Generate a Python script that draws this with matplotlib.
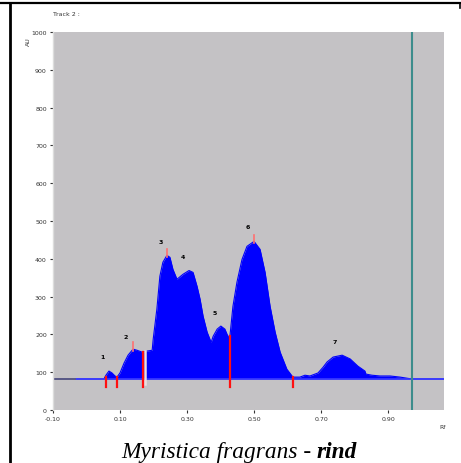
import matplotlib
matplotlib.use("Agg")
import matplotlib.pyplot as plt
from matplotlib.lines import Line2D
import numpy as np

# ---- data (Rf vs AU) ----
rf = [-0.100, -0.034, 0.040, 0.052, 0.058, 0.067, 0.076, 0.085, 0.091, 0.100,
      0.112, 0.124, 0.139, 0.151, 0.166, 0.169, 0.181, 0.196, 0.199, 0.210,
      0.219, 0.228, 0.240, 0.249, 0.258, 0.270, 0.288, 0.306, 0.318, 0.330,
      0.339, 0.348, 0.360, 0.372, 0.378, 0.390, 0.401, 0.413, 0.422, 0.428,
      0.437, 0.449, 0.464, 0.479, 0.500, 0.518, 0.533, 0.548, 0.563, 0.578,
      0.598, 0.616, 0.637, 0.652, 0.667, 0.691, 0.706, 0.718, 0.736, 0.763,
      0.787, 0.810, 0.831, 0.834, 0.852, 0.876, 0.906, 0.936, 0.957, 0.972,
      1.067]
au = [82, 82, 82, 82, 92, 103, 98, 90, 87, 98,
      124, 145, 161, 158, 153, 153, 156, 158, 187, 267,
      354, 391, 409, 404, 372, 346, 359, 369, 364, 327,
      293, 248, 206, 179, 195, 214, 222, 214, 195, 195,
      274, 338, 398, 433, 446, 425, 364, 274, 206, 153,
      108, 87, 87, 92, 90, 98, 113, 127, 140, 145,
      135, 116, 103, 95, 92, 90, 90, 87, 84, 82,
      82]
baseline_au = 82
front_rf = 0.972

peak_ids = ["1", "2", "3", "4", "5", "6", "7"]
peak_label_rf = [0.049, 0.118, 0.222, 0.288, 0.384, 0.482, 0.742]
peak_label_au = [142, 195, 446, 406, 259, 486, 182]

# red integration markers: (rf, top AU)
border_rf = [0.058, 0.091, 0.169, 0.428, 0.616]
border_top = [86, 86, 153, 195, 86]
apex_rf = [0.139, 0.240, 0.500]
apex_au = [161, 409, 446]

x_ticks = [-0.1, 0.1, 0.3, 0.5, 0.7, 0.9]
x_ticklabels = ["-0.10", "0.10", "0.30", "0.50", "0.70", "0.90"]
y_ticks = [0, 100, 200, 300, 400, 500, 600, 700, 800, 900, 1000]
y_ticklabels = ["0", "100", "200", "300", "400", "500", "600", "700", "800", "900", "1000"]

W, H = 461, 464
fig = plt.figure(figsize=(W / 100, H / 100), dpi=100)
fig.patch.set_facecolor("white")

ax = fig.add_axes([53 / W, 1 - 411 / H, (444 - 53) / W, (411 - 33) / H])
ax.set_facecolor("#c4c2c5")
ax.set_xlim(-0.1, 1.067)
ax.set_ylim(0, 1000)

rf_a = np.array(rf)
au_a = np.array(au)
ax.fill_between(rf_a, baseline_au, au_a, color="#0000ff", linewidth=0)
ax.plot(rf_a, au_a, color="#0000ff", lw=0.8)
ax.plot([-0.1, 1.067], [baseline_au, baseline_au], color="#3a3aff", lw=1.2)
ax.plot([-0.1, -0.034], [baseline_au, baseline_au], color="#606070", lw=1.2)

# light gap line
ax.plot([0.176, 0.176], [70, 155], color="#ecdede", lw=1.8)
for r, t in zip(border_rf, border_top):
    ax.plot([r, r], [62, t], color="#ff1010", lw=1.6)
for r, a in zip(apex_rf, apex_au):
    ax.plot([r, r], [a - 4, a + 18], color="#ff7070", lw=1.2)

ax.axvline(front_rf, color="#3d8c8c", lw=1.5)

for lbl, r, a in zip(peak_ids, peak_label_rf, peak_label_au):
    ax.text(r, a, lbl, fontsize=4.5, color="black", ha="center", va="center",
            fontweight="bold")

ax.set_xticks(x_ticks)
ax.set_xticklabels(x_ticklabels, fontsize=4.5, color="#333333")
ax.set_yticks(y_ticks)
ax.set_yticklabels(y_ticklabels, fontsize=4.5, color="#333333")
ax.tick_params(axis="both", length=2.5, width=0.8, pad=2, colors="#333333")
for s in ["top", "right", "bottom"]:
    ax.spines[s].set_visible(False)
ax.spines["left"].set_color("#dcdcdc")
ax.spines["left"].set_linewidth(1.0)

fig.text(443 / W, 1 - 428 / H, "Rf", fontsize=4.5, color="#333333",
         ha="center", va="center")
fig.text(28 / W, 1 - 42 / H, "AU", fontsize=4.5, color="#333333",
         ha="center", va="center", rotation=90)
fig.text(53 / W, 1 - 14 / H, "Track 2 :", fontsize=4.5, color="#333333",
         ha="left", va="center")

# table-cell border
fig.add_artist(Line2D([0, 1], [1 - 4 / H, 1 - 4 / H], transform=fig.transFigure,
                      color="black", lw=1.6))
fig.add_artist(Line2D([10 / W, 10 / W], [0, 1 - 4 / H], transform=fig.transFigure,
                      color="black", lw=2.0))
fig.add_artist(Line2D([459.5 / W, 459.5 / W], [1 - 4 / H, 1 - 9 / H],
                      transform=fig.transFigure, color="black", lw=1.2))

# caption
cy = 1 - 458 / H
t1 = fig.text(0.5, cy, "Myristica fragrans - ", fontsize=16.8, family="Liberation Serif",
              style="italic", ha="left", va="baseline")
t2 = fig.text(0.5, cy, "rind", fontsize=16.8, family="Liberation Serif",
              style="italic", fontweight="bold", ha="left", va="baseline")
fig.canvas.draw()
r = fig.canvas.get_renderer()
b1 = t1.get_window_extent(r)
b2 = t2.get_window_extent(r)
total = b1.width + b2.width
start = 239 - total / 2
t1.set_x(start / W)
t2.set_x((start + b1.width) / W)

fig.savefig("out.png", dpi=100)
